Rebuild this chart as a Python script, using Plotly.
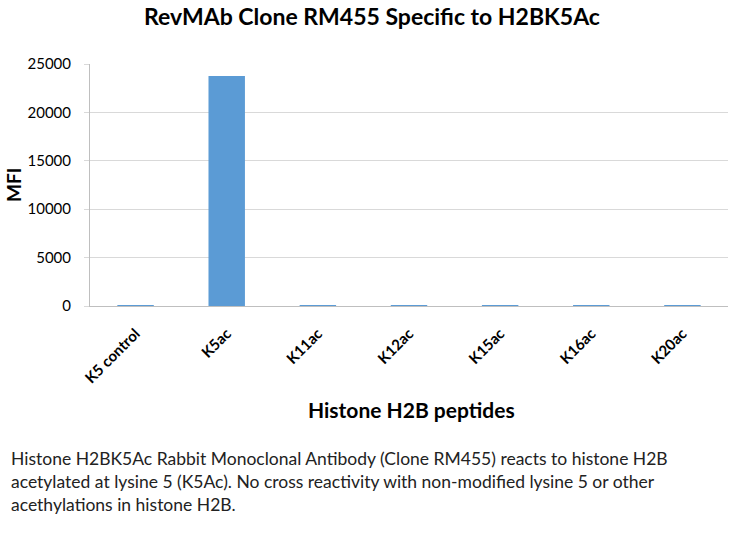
import plotly.graph_objects as go

categories = ["K5 control", "K5ac", "K11ac", "K12ac", "K15ac", "K16ac", "K20ac"]
mfi_values = [100, 23760, 100, 100, 100, 100, 100]
y_ticks = [0, 5000, 10000, 15000, 20000, 25000]
y_tick_labels = ["0", "5000", "10000", "15000", "20000", "25000"]

title_text = "RevMAb Clone RM455 Specific to H2BK5Ac"
x_title = "Histone H2B peptides"
y_title = "MFI"
caption_lines = [
    "Histone H2BK5Ac Rabbit Monoclonal Antibody (Clone RM455) reacts to histone H2B",
    "acetylated at lysine 5 (K5Ac). No cross reactivity with non-modified lysine 5 or other",
    "acethylations in histone H2B.",
]

fig = go.Figure(go.Bar(
    x=categories, y=mfi_values,
    marker=dict(color="#5B9BD5", line=dict(width=0)),
    hoverinfo="skip",
))

L, R, T, B = 90, 16, 64, 234
PW, PH = 744 - L - R, 540 - T - B


def px(sx):
    return (sx - L) / PW


def py(sy):
    return (540 - B - sy) / PH


fig.update_layout(
    width=744, height=540,
    margin=dict(l=L, r=R, t=T, b=B, autoexpand=False),
    paper_bgcolor="white", plot_bgcolor="white",
    bargap=0.6,
    showlegend=False,
    font=dict(family="Lato", color="#000000"),
    title=dict(text="<b>" + title_text + "</b>", x=0.5, xanchor="center",
               y=1 - 17 / 540, yanchor="middle",
               font=dict(family="Lato", size=23, color="#000000")),
    xaxis=dict(
        automargin=False,
        showgrid=False, showline=True, linecolor="#BFBFBF", linewidth=1,
        ticks="", tickangle=-45, ticklabelstandoff=12,
        tickfont=dict(family="Lato", size=15, color="#000000"),
        tickvals=categories,
        ticktext=["<b>" + c + "</b>" for c in categories],
    ),
    yaxis=dict(
        automargin=False,
        range=[0, 25000], tickvals=y_ticks, ticktext=y_tick_labels,
        showgrid=True, gridcolor="#D9D9D9", gridwidth=1,
        showline=True, linecolor="#BFBFBF", linewidth=1,
        ticks="outside", ticklen=5, tickcolor="#D9D9D9",
        ticklabelstandoff=10,
        tickfont=dict(family="Lato", size=15, color="#000000"),
        zeroline=False,
    ),
)

fig.add_annotation(text="<b>" + y_title + "</b>", xref="paper", yref="paper",
                   x=px(13), y=0.5, xanchor="center", yanchor="middle",
                   textangle=-90, showarrow=False,
                   font=dict(family="Lato", size=19, color="#000000"))
fig.add_annotation(text="<b>" + x_title + "</b>", xref="paper", yref="paper",
                   x=px(411), y=py(409), xanchor="center", yanchor="middle",
                   showarrow=False,
                   font=dict(family="Lato", size=21, color="#000000"))
fig.add_annotation(text="<br>".join(caption_lines), xref="paper", yref="paper",
                   x=px(9), y=py(446), xanchor="left", yanchor="top",
                   align="left", showarrow=False,
                   font=dict(family="Lato", size=17.5, color="#222222"))

fig.write_html("out.html", config={"displayModeBar": False},
               post_script="document.body.style.margin='0px';")
